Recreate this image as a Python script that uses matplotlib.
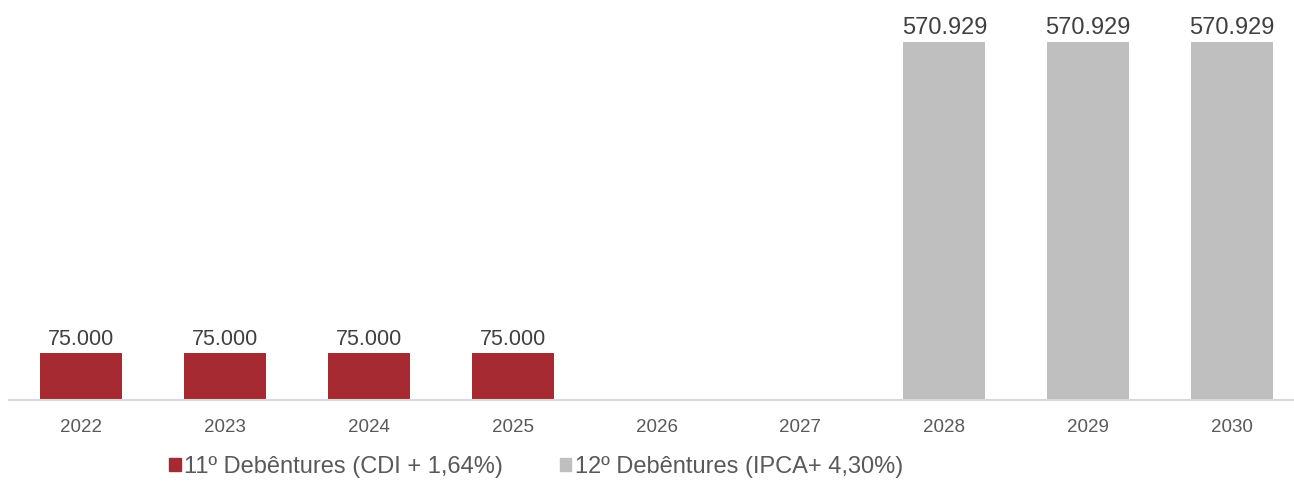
import numpy as np
import matplotlib.pyplot as plt
from matplotlib.patches import Patch

plt.rcParams['font.family'] = ['Liberation Sans', 'DejaVu Sans']

anos = ['2022', '2023', '2024', '2025', '2026', '2027', '2028', '2029', '2030']
deb11 = [75000, 75000, 75000, 75000, 0, 0, 0, 0, 0]
deb12 = [0, 0, 0, 0, 0, 0, 570929, 570929, 570929]
nomes = ['11º Debêntures (CDI + 1,64%)', '12º Debêntures (IPCA+ 4,30%)']

cor11 = '#A52A32'
cor12 = '#BFBFBF'

fig = plt.figure(figsize=(12.94, 5.03), dpi=100)
ax = fig.add_axes([9/1294, 103/503, 1 - 9/1294, 400/503])

x = np.arange(len(anos))
w = 0.57
b1 = ax.bar(x, deb11, w, color=cor11)
b2 = ax.bar(x, deb12, w, color=cor12)

def fmt(v):
    return f'{v:,.0f}'.replace(',', '.')

for i in range(len(anos)):
    v = deb11[i] + deb12[i]
    if v > 0:
        tam = 17 if v > 100000 else 15.5
        ax.text(x[i], v + 4000, fmt(v), ha='center', va='bottom',
                fontsize=tam, color='#404040')

ax.set_xlim(-0.5, 8.43)
ax.set_ylim(0, 570929 * 400 / 358)
ax.set_xticks(x)
ax.set_xticklabels(anos, fontsize=13.5, color='#595959')
ax.tick_params(axis='x', length=0, pad=14)
ax.set_yticks([])
for s in ['top', 'right', 'left']:
    ax.spines[s].set_visible(False)
ax.spines['bottom'].set_color('#D9D9D9')
ax.spines['bottom'].set_linewidth(1.5)

handles = [Patch(color=cor11), Patch(color=cor12)]
fig.legend(handles, nomes, loc='center', bbox_to_anchor=(536/1294, 1 - 467/503),
           ncol=2, frameon=False, fontsize=17, handlelength=0.5, handleheight=0.5,
           handletextpad=0.15, columnspacing=2.4, labelcolor='#595959')

fig.savefig('out.png', dpi=100)
